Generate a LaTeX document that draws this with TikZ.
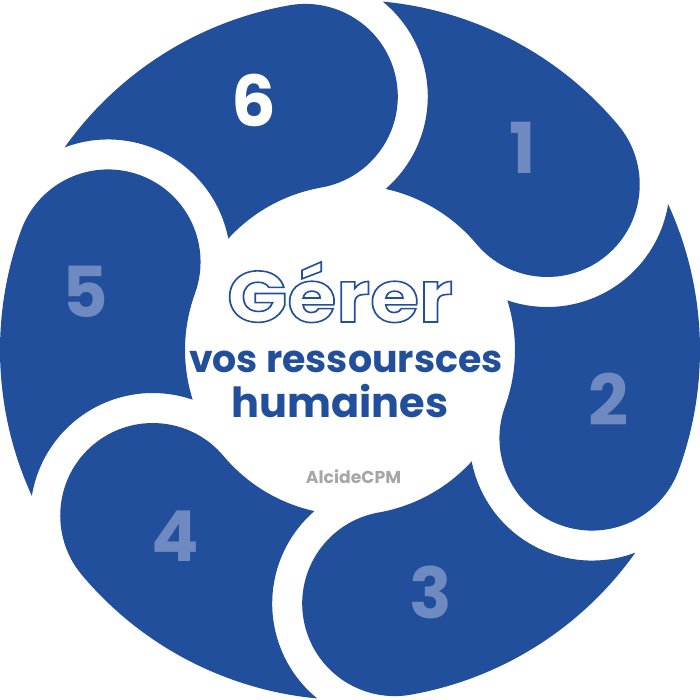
\documentclass[tikz,border=0pt]{standalone}
\usepackage{fontspec}
\setmainfont{Poppins}
\usetikzlibrary{positioning}
\definecolor{ringblue}{RGB}{33,79,156}
\definecolor{numblue}{RGB}{111,138,192}
\definecolor{markgray}{RGB}{166,166,166}

\begin{document}
\begin{tikzpicture}[
    segment/.style={fill=ringblue},
    stepnum/.style={font=\bfseries\fontsize{20}{24}\selectfont, text=numblue},
    bluetext/.style={font=\bfseries\fontsize{10.8}{13}\selectfont, text=ringblue, anchor=base},
  ]
    \useasboundingbox (-3.5,-3.5) rectangle (3.5,3.5);

    % Ring segments, one per lobe angle (lobe at the clockwise end)
    \foreach \b in {40,-20,-80,-140,-200,100} {
        \pgfmathsetmacro{\a}{\b+60}
        \fill[segment] (\a-15.38:3.5) arc[start angle=\a-15.38, end angle=\b, radius=3.5]
            arc[start angle=\b, end angle=\b-180, radius=0.925]
            arc[start angle=\b, end angle=\a-22.47, radius=1.65]
            arc[start angle=\a-149.02, end angle=\a-49.26, radius=1.225] -- cycle;
    }

    % Step numbers
    \node[stepnum] (one) at (49.4:2.66) {1};
    \node[stepnum] (two) at (-10.9:2.63) {2};
    \node[stepnum] (three) at (-71.6:2.56) {3};
    \node[stepnum] (four) at (-133.1:2.55) {4};
    \node[stepnum] (five) at (167.7:2.71) {5};
    \node[stepnum, text=white] (six) at (111:2.67) {6};

    % Centre text (title is outlined)
    \node[font=\fontsize{20.5}{22}\selectfont\bfseries, text=white, anchor=base] (title) at (-0.10,0.28)
        {\special{pdf:literal direct 0.129 0.310 0.612 RG 0.45 w 1 Tr}\scalebox{1.1}[1]{Gérer}\special{pdf:literal direct 0 Tr 0.4 w}};
    \node[bluetext] (vos) at (-0.04,-0.22) {vos ressoursces};
    \node[bluetext, font=\bfseries\fontsize{11.8}{13}\selectfont] (humaines) at (-0.10,-0.67) {humaines};
    \node[font=\bfseries\fontsize{4.9}{6}\selectfont, text=markgray, anchor=base] (brand) at (0.035,-1.33) {AlcideCPM};
\end{tikzpicture}
\end{document}
